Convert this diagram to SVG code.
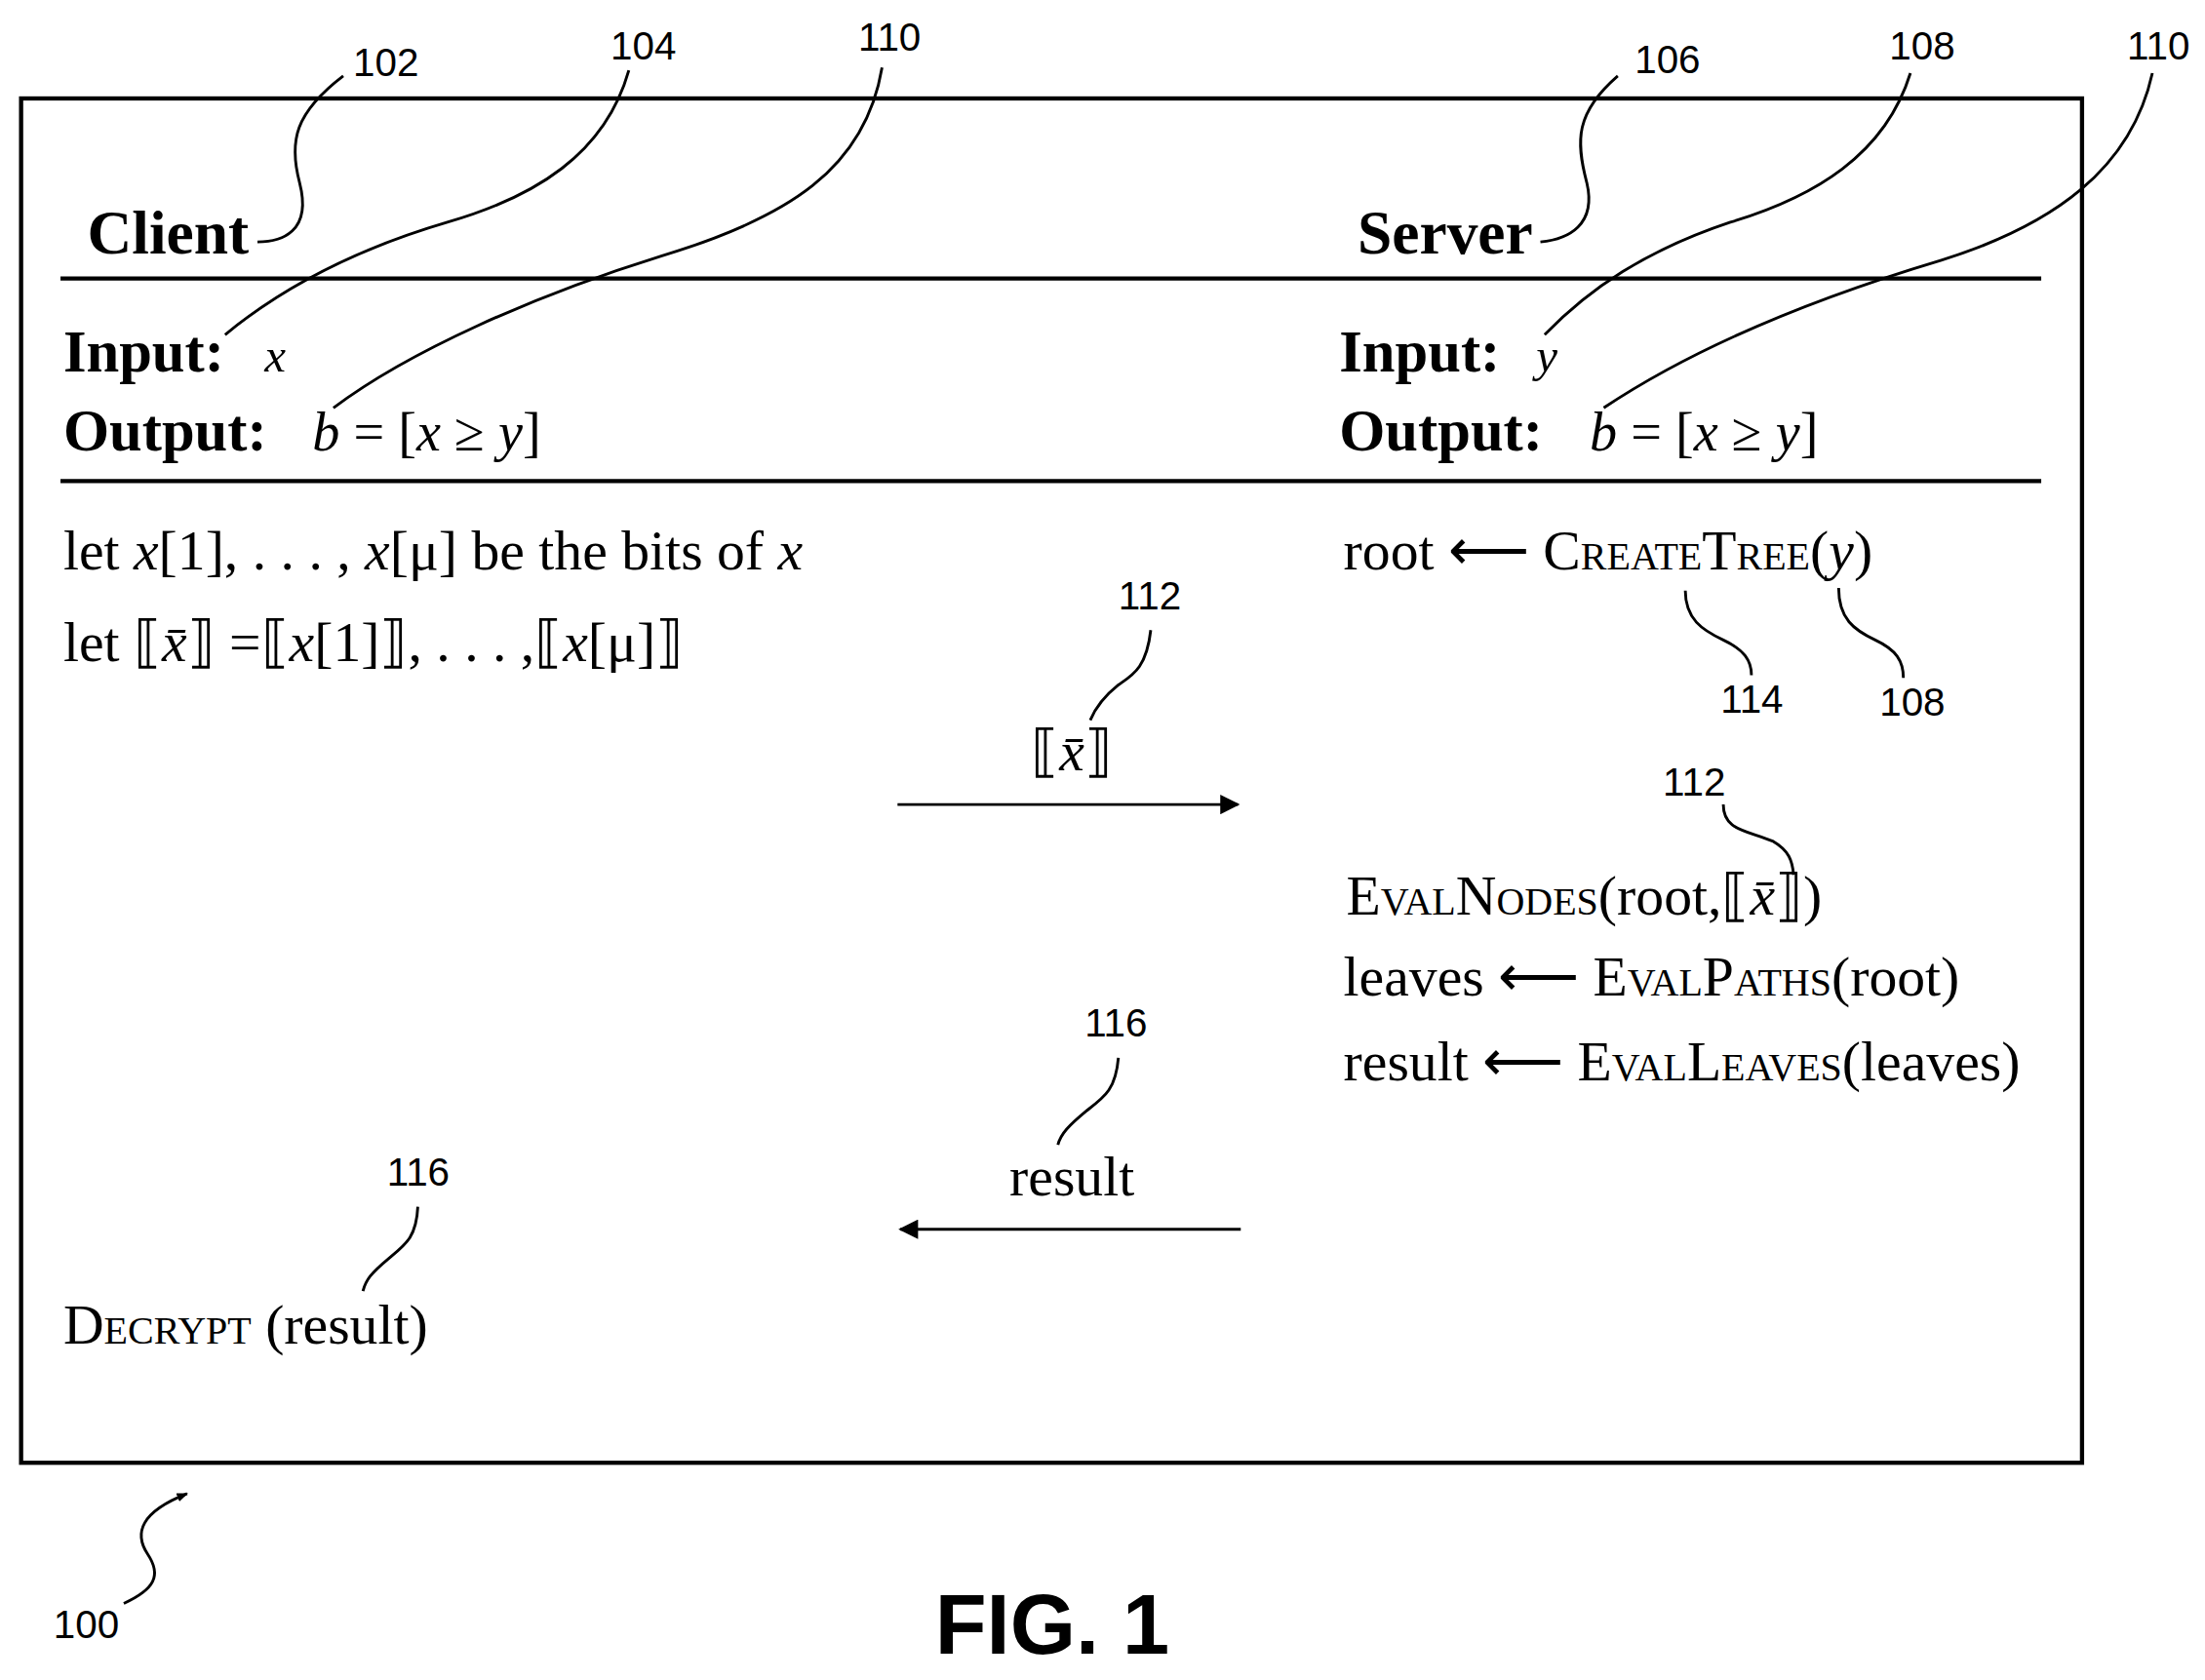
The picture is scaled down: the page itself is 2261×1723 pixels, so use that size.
<svg xmlns="http://www.w3.org/2000/svg" width="2261" height="1723" viewBox="0 0 2261 1723">
<style>
.t{font-family:"Liberation Serif",serif;font-size:40px;fill:#000}
.b{font-family:"Liberation Serif",serif;font-weight:bold;font-size:42px;fill:#000}
.i{font-style:italic}
.sc{font-variant:small-caps}
.n{font-family:"Liberation Sans",sans-serif;font-size:28px;fill:#000}
.ln{fill:none;stroke:#000;stroke-width:2}
.r{stroke:#000;stroke-width:3}
</style>
<defs><marker id="ah" viewBox="0 0 10 10" refX="9" refY="5" markerWidth="8" markerHeight="8" markerUnits="userSpaceOnUse" orient="auto"><path d="M0,1 L10,5 L0,9 Z"/></marker>
<marker id="ah2" viewBox="0 0 10 10" refX="9" refY="5" markerWidth="18" markerHeight="14" markerUnits="userSpaceOnUse" orient="auto"><path d="M0,0 L10,5 L0,10 Z"/></marker></defs>
<g transform="scale(1.4425)">
<rect x="15" y="70" width="1465" height="970" fill="none" stroke="#000" stroke-width="3"/>
<line class="r" x1="43" y1="198" x2="1451" y2="198"/>
<line class="r" x1="43" y1="342" x2="1451" y2="342"/>
<g id="client"><text class="b" x="62" y="180" style="font-size:44px">Client</text></g>
<g id="server"><text class="b" x="965" y="180" style="font-size:44px">Server</text></g>
<g id="client-io">
<text class="b" x="45" y="264">Input:</text><text class="t i" x="188" y="264" style="font-size:34px">x</text>
<text class="b" x="45" y="320">Output:</text><text class="t" x="222" y="320" style="font-size:39px"><tspan class="i">b</tspan> = [<tspan class="i">x</tspan> ≥ <tspan class="i">y</tspan>]</text>
</g>
<g id="server-io">
<text class="b" x="952" y="264">Input:</text><text class="t i" x="1092" y="264" style="font-size:34px">y</text>
<text class="b" x="952" y="320">Output:</text><text class="t" x="1130" y="320" style="font-size:39px"><tspan class="i">b</tspan> = [<tspan class="i">x</tspan> ≥ <tspan class="i">y</tspan>]</text>
</g>
<g id="client-steps">
<text class="t" x="45" y="405">let  <tspan class="i">x</tspan>[1], . . . , <tspan class="i">x</tspan>[μ] be the bits of <tspan class="i">x</tspan></text>
<text class="t" x="45" y="470">let  ⟦<tspan class="i">x̄</tspan>⟧ =⟦<tspan class="i">x</tspan>[1]⟧, . . . ,⟦<tspan class="i">x</tspan>[μ]⟧</text>
<text class="t" x="45" y="955"><tspan class="sc">Decrypt</tspan> (result)</text>
</g>
<g id="server-steps">
<text class="t" x="955" y="405">root ⟵ <tspan class="sc">CreateTree</tspan>(<tspan class="i">y</tspan>)</text>
<text class="t" x="957" y="650"><tspan class="sc">EvalNodes</tspan>(root,⟦<tspan class="i">x̄</tspan>⟧)</text>
<text class="t" x="955" y="708">leaves ⟵ <tspan class="sc">EvalPaths</tspan>(root)</text>
<text class="t" x="955" y="768">result ⟵ <tspan class="sc">EvalLeaves</tspan>(leaves)</text>
</g>
<g id="messages">
<text class="t" x="762" y="548" text-anchor="middle">⟦<tspan class="i">x̄</tspan>⟧</text>
<text class="t" x="762" y="850" text-anchor="middle">result</text>
</g>
<g id="labels">
<text class="n" x="251" y="54">102</text>
<text class="n" x="434" y="42">104</text>
<text class="n" x="610" y="36">110</text>
<text class="n" x="1162" y="52">106</text>
<text class="n" x="1343" y="42">108</text>
<text class="n" x="1512" y="42">110</text>
<text class="n" x="795" y="433">112</text>
<text class="n" x="1223" y="507">114</text>
<text class="n" x="1336" y="509">108</text>
<text class="n" x="1182" y="566">112</text>
<text class="n" x="771" y="737">116</text>
<text class="n" x="275" y="843">116</text>
<text class="n" x="38" y="1165">100</text>
<text x="748" y="1176" text-anchor="middle" style="font-family:'Liberation Sans',sans-serif;font-weight:bold;font-size:60px">FIG. 1</text>
</g>
<g id="connectors">
<line class="ln" x1="638" y1="572" x2="880" y2="572" marker-end="url(#ah2)"/>
<line class="ln" x1="882" y1="874" x2="640" y2="874" marker-end="url(#ah2)"/>
<path class="ln" d="M244,54 C210,80 205,100 213,130 C222,165 200,172 183,172"/>
<path class="ln" d="M447,50 C430,110 380,140 318,158 C250,178 200,205 160,238"/>
<path class="ln" d="M627,48 C615,120 560,155 470,182 C380,210 290,250 237,290"/>
<path class="ln" d="M1150,54 C1120,80 1120,100 1128,130 C1135,160 1115,170 1095,172"/>
<path class="ln" d="M1358,52 C1340,110 1290,140 1230,158 C1170,178 1130,205 1098,238"/>
<path class="ln" d="M1530,52 C1515,120 1460,160 1380,185 C1280,215 1200,250 1140,290"/>
<path class="ln" d="M818,448 C815,475 805,480 795,487 C785,495 778,505 775,512"/>
<path class="ln" d="M1198,420 C1198,440 1210,448 1225,455 C1240,462 1245,470 1245,480"/>
<path class="ln" d="M1307,418 C1307,440 1318,448 1333,455 C1348,462 1353,470 1353,482"/>
<path class="ln" d="M1225,572 C1225,590 1240,590 1260,598 C1272,605 1274,612 1275,622"/>
<path class="ln" d="M795,752 C793,775 785,780 772,790 C760,800 754,806 752,814"/>
<path class="ln" d="M297,858 C296,880 288,885 276,895 C264,905 260,910 258,918"/>
<path class="ln" d="M88,1140 C110,1130 115,1120 105,1105 C95,1090 100,1075 133,1062" marker-end="url(#ah)"/>
</g>
</g>
</svg>
